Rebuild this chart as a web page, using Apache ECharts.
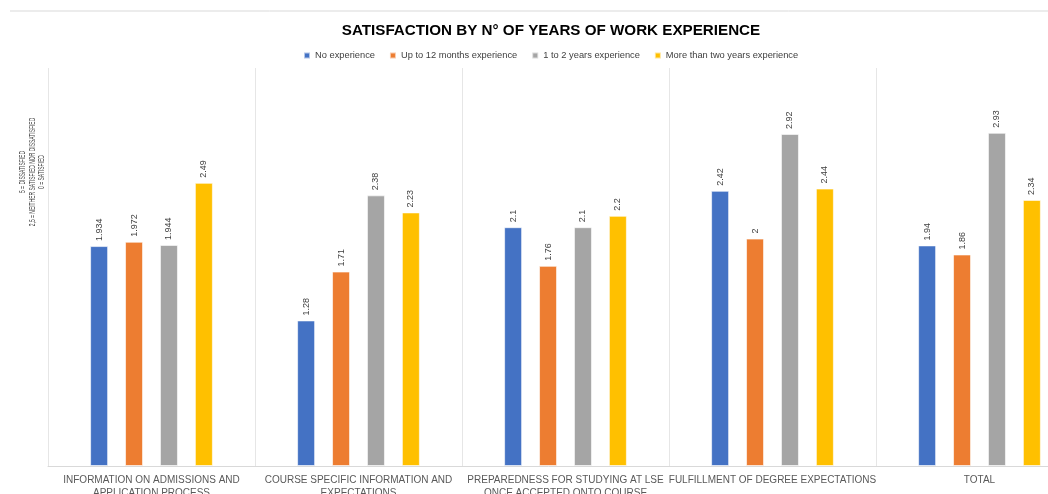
<!DOCTYPE html>
<html><head><meta charset="utf-8">
<script src="https://cdn.jsdelivr.net/npm/echarts@6/dist/echarts.min.js"></script>
<style>html,body{margin:0;padding:0;background:#fff}#c{width:1048px;height:494px}</style>
</head><body><div id="c"></div>
<script>
const categories = [
  "INFORMATION ON ADMISSIONS AND\nAPPLICATION PROCESS",
  "COURSE SPECIFIC INFORMATION AND\nEXPECTATIONS",
  "PREPAREDNESS FOR STUDYING AT LSE\nONCE ACCEPTED ONTO COURSE",
  "FULFILLMENT OF DEGREE EXPECTATIONS",
  "TOTAL"
];
const seriesNames = ["No experience", "Up to 12 months experience", "1 to 2 years experience", "More than two years experience"];
const noExperience = [1.934, 1.28, 2.1, 2.42, 1.94];
const upTo12Months = [1.972, 1.71, 1.76, 2, 1.86];
const oneToTwoYears = [1.944, 2.38, 2.1, 2.92, 2.93];
const moreThanTwoYears = [2.49, 2.23, 2.2, 2.44, 2.34];
const colors = ["#4472C4", "#ED7D31", "#A5A5A5", "#FFC000"];
const font = "'Liberation Sans', Arial, sans-serif";

const seriesData = [noExperience, upTo12Months, oneToTwoYears, moreThanTwoYears];
const chart = echarts.init(document.getElementById('c'), null, {renderer: 'canvas'});
chart.setOption({
  animation: false,
  color: colors,
  title: {
    text: "SATISFACTION BY N° OF YEARS OF WORK EXPERIENCE",
    left: 546, top: 18, textAlign: 'center',
    textStyle: {fontFamily: font, fontSize: 15.2, fontWeight: 'bold', color: '#000'}
  },
  legend: {
    data: seriesNames, top: 46, left: 298,
    itemWidth: 6, itemHeight: 6, itemGap: 14, icon: 'rect',
    textStyle: {fontFamily: font, fontSize: 9.3, color: '#404040'}
  },
  grid: {left: 48, top: 68, width: 1035, bottom: 28, outerBoundsMode: 'none', containLabel: false},
  xAxis: {
    type: 'category', data: categories,
    axisLine: {lineStyle: {color: '#d9d9d9'}},
    axisTick: {show: false},
    splitLine: {show: true, lineStyle: {color: '#e6e6e6'}},
    axisLabel: {interval: 0, fontFamily: font, fontSize: 10, color: '#595959', lineHeight: 13, margin: 8}
  },
  yAxis: {type: 'value', min: 0, max: 3.5, show: false, splitLine: {show: false}},
  graphic: [
    {type: 'line', shape: {x1: 10, y1: 11, x2: 1048, y2: 11}, style: {stroke: '#d9d9d9', lineWidth: 1}},
    {type: 'text', x: 32.5, y: 172, rotation: Math.PI / 2, scaleX: 0.585,
     style: {text: "5 = DISSATISFIED\n2,5 = NEITHER SATISFIED NOR DISSATISFIED\n0 = SATISFIED",
             align: 'center', verticalAlign: 'middle', fontFamily: font, fontSize: 8.5, lineHeight: 9.6, fill: '#404040'}}
  ],
  series: seriesData.map((d, i) => ({
    name: seriesNames[i], type: 'bar', data: d,
    barWidth: 18, barGap: '94%',
    itemStyle: {borderColor: 'rgba(255,255,255,0.6)', borderWidth: 1},
    label: {show: true, position: 'top', rotate: 90, align: 'left', verticalAlign: 'middle', distance: 5,
            fontFamily: font, fontSize: 9, color: '#404040'}
  }))
});
</script></body></html>
